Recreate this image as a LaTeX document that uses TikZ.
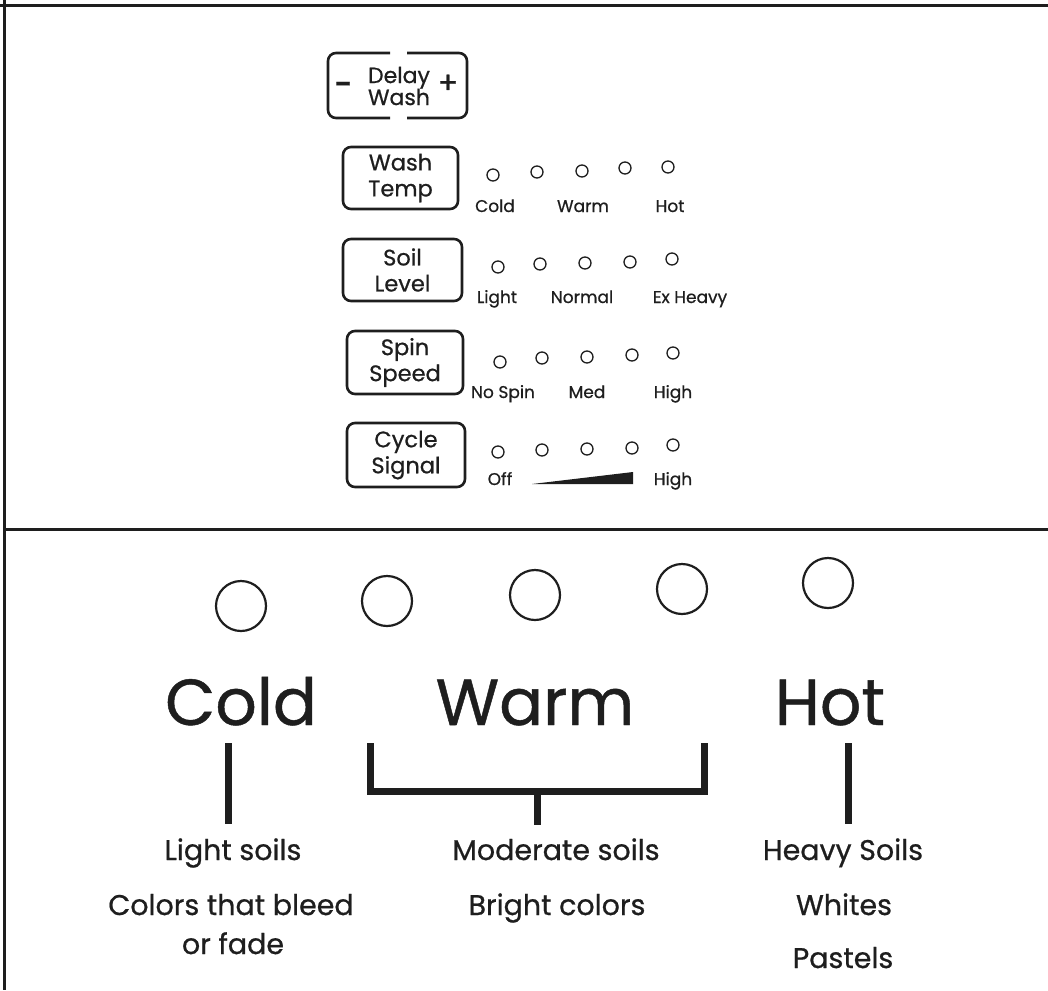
\documentclass[tikz,border=0pt]{standalone}
\usepackage{fontspec}
\setmainfont{Poppins}[FakeBold=0.7]
\definecolor{ink}{HTML}{1E1E1E}
\tikzset{
  frameline/.style={line width=3pt, draw=ink},
  btn/.style={draw=ink, line width=2.6pt, rounded corners=8pt, align=center, inner sep=0pt,
     font=\fontsize{22.5}{26}\selectfont, text=ink},
  led/.style={circle, draw=ink, line width=1.3pt, minimum size=12pt, inner sep=0pt},
  bigled/.style={circle, draw=ink, line width=2.2pt, minimum size=50pt, inner sep=0pt},
  lbl/.style={anchor=base, inner sep=0pt, font=\fontsize{17}{20}\selectfont, text=ink},
  big/.style={anchor=base, inner sep=0pt, font=\fontsize{65}{70}\selectfont, text=ink},
  captxt/.style={anchor=base, inner sep=0pt, font=\fontsize{28.5}{32}\selectfont, text=ink},
  tick/.style={line width=7pt, draw=ink},
}
\begin{document}
\begin{tikzpicture}[x=1pt, y=-1pt]
\useasboundingbox (0,0) rectangle (1048,990);
% frame
\draw[frameline] (0,6) -- (1048,6);
\draw[frameline] (4,0) -- (4,990);
\draw[frameline] (4,529) -- (1048,529);

% Delay Wash button
\draw[ink, line width=2.6pt, rounded corners=8pt] (390,53) -- (328,53) -- (328,118) -- (390,118);
\draw[ink, line width=2.6pt, rounded corners=8pt] (407,53) -- (467,53) -- (467,118) -- (407,118);
\node[btn, draw=none, font=\fontsize{22}{22}\selectfont] (delay) at (399,86) {Delay\\Wash};
\node[lbl, anchor=center, font=\fontsize{24}{24}\selectfont] (minus) at (343,87) {\textbf{–}};
\node[lbl, anchor=center, font=\fontsize{30}{30}\selectfont] (plus) at (448,84) {+};

% Wash Temp row
\node[btn, minimum width=115pt, minimum height=62pt] (wt) at (400.5,178) {Wash\\Temp};
\foreach \x/\y [count=\i] in {493/175,537/172,582/171,625/168,668/167}
  \node[led] (wt\i) at (\x,\y) {};
\node[lbl] (wtc) at (495,212) {Cold};
\node[lbl] (wtw) at (583,212) {Warm};
\node[lbl] (wth) at (670,212) {Hot};

% Soil Level row
\node[btn, minimum width=119pt, minimum height=62pt] (sl) at (402.5,270) {Soil\\Level};
\foreach \x/\y [count=\i] in {498/267,540/264,585/263,630/262,672/259}
  \node[led] (sl\i) at (\x,\y) {};
\node[lbl] (sll) at (497,303) {Light};
\node[lbl] (sln) at (582,303) {Normal};
\node[lbl] (sle) at (690,303) {Ex Heavy};

% Spin Speed row
\node[btn, minimum width=116pt, minimum height=63pt] (ss) at (405,362.5) {Spin\\Speed};
\foreach \x/\y [count=\i] in {500/362,542/358,587/357,632/355,673/353}
  \node[led] (ss\i) at (\x,\y) {};
\node[lbl] (ssn) at (503,398) {No Spin};
\node[lbl] (ssm) at (587,398) {Med};
\node[lbl] (ssh) at (673,398) {High};

% Cycle Signal row
\node[btn, minimum width=118pt, minimum height=64pt] (cs) at (406,455) {Cycle\\Signal};
\foreach \x/\y [count=\i] in {498/452,542/450,587/449,632/448,673/445}
  \node[led] (cs\i) at (\x,\y) {};
\node[lbl] (cso) at (500,485) {Off};
\node[lbl] (csh) at (673,485) {High};
\fill[ink] (532,484) -- (633,484) -- (633,472) -- cycle;

% bottom panel
\foreach \x/\y [count=\i] in {241/606,387/601,535/595,682/589,828/583}
  \node[bigled] (b\i) at (\x,\y) {};
\node[big] (cold) at (241,725) {Cold};
\node[big] (warm) at (535,725) {Warm};
\node[big] (hot) at (830,725) {Hot};

\coordinate (c1) at (228,743);
\coordinate (c2) at (228,824);
\coordinate (w1) at (370,743);
\coordinate (w2) at (370,791);
\coordinate (w3) at (704,791);
\coordinate (w4) at (704,743);
\coordinate (wm) at (537,791);
\coordinate (wb) at (537,825);
\coordinate (h1) at (848,743);
\coordinate (h2) at (848,824);
\draw[tick] (c1) -- (c2);
\draw[tick] (w1) -- (w2) -- (w3) -- (w4);
\draw[tick] (wm) -- (wb);
\draw[tick] (h1) -- (h2);

\node[captxt] (t1) at (233,860) {Light soils};
\node[captxt] (t2) at (231,915) {Colors that bleed};
\node[captxt] (t3) at (233,954) {or fade};
\node[captxt] (t4) at (556,860) {Moderate soils};
\node[captxt] (t5) at (557,915) {Bright colors};
\node[captxt] (t6) at (843,860) {Heavy Soils};
\node[captxt] (t7) at (844,915) {Whites};
\node[captxt] (t8) at (843,968) {Pastels};
\end{tikzpicture}
\end{document}
